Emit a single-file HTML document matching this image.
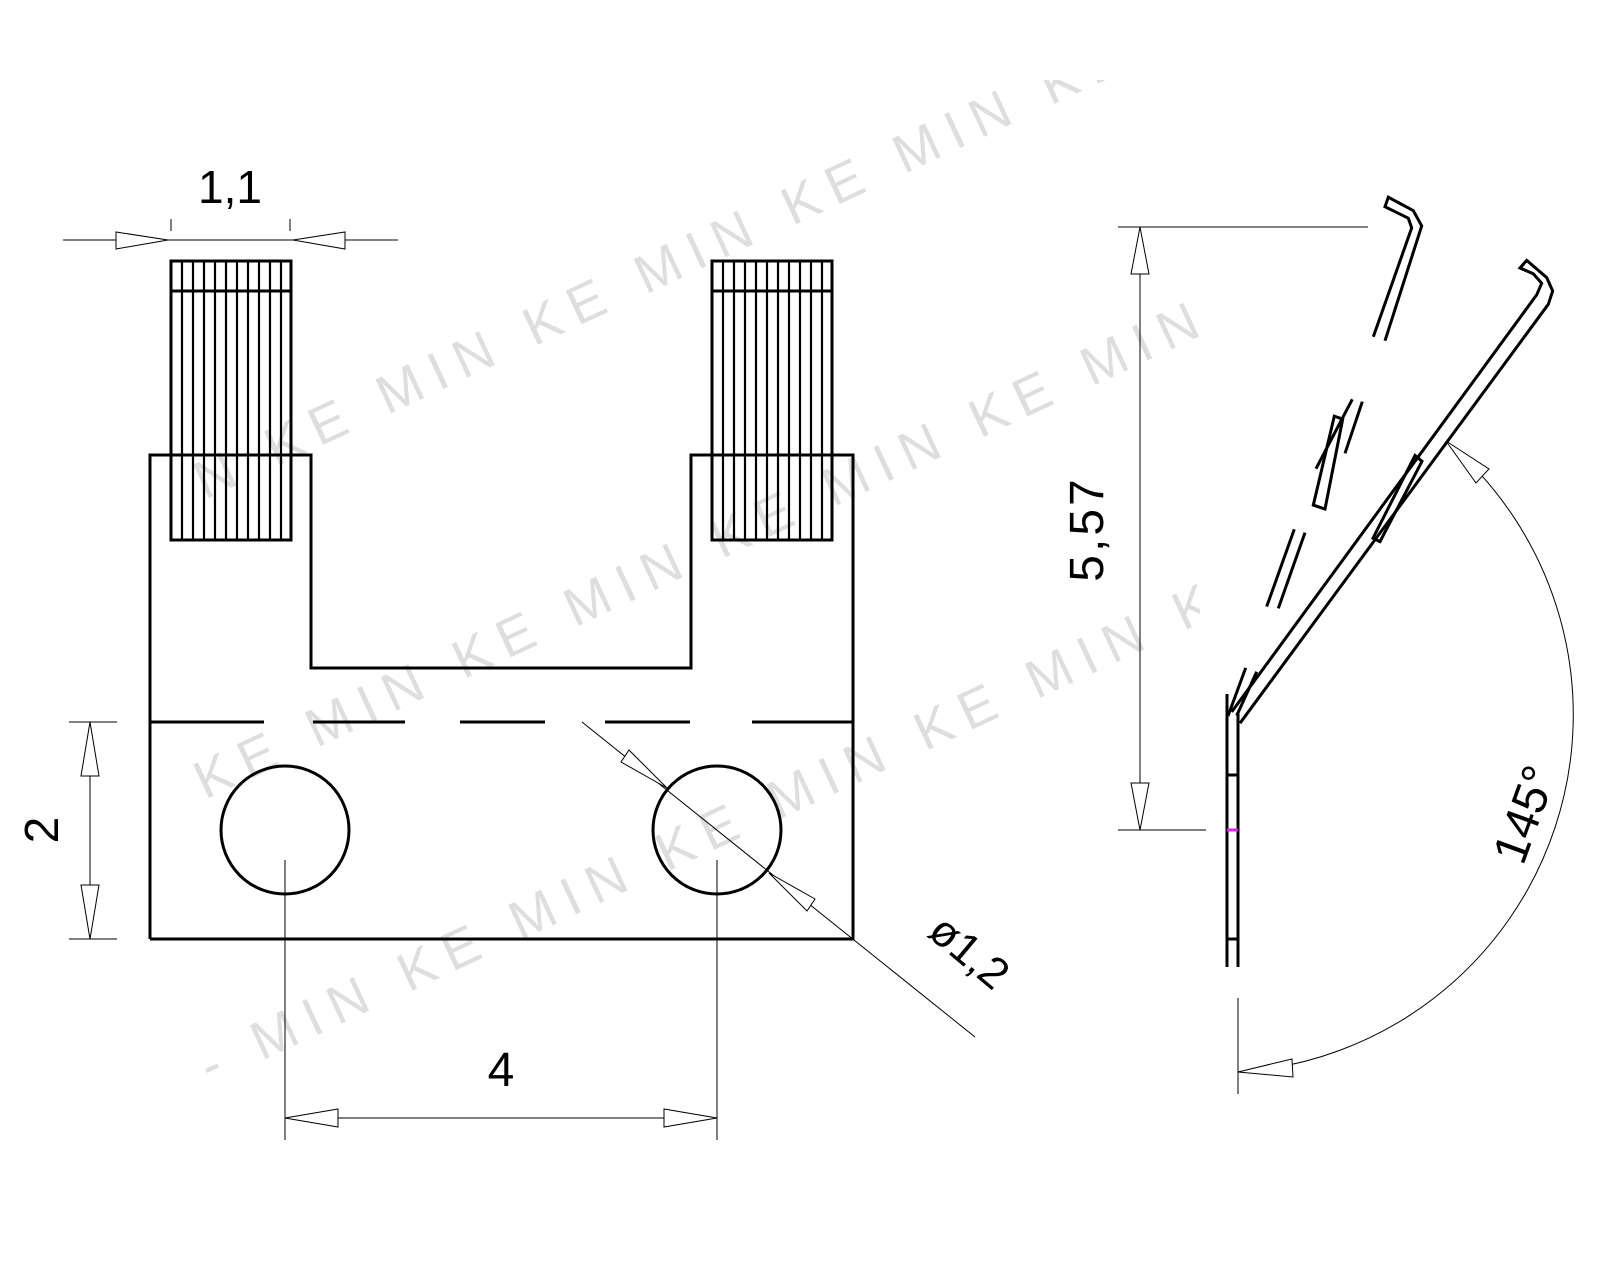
<!DOCTYPE html>
<html><head><meta charset="utf-8"><style>
html,body{margin:0;padding:0;background:#fff;}
svg{display:block;}
text{font-family:"Liberation Sans",sans-serif;fill:#000;}
.wm{fill:#dedede;font-size:54px;letter-spacing:12px;}
</style></head><body>
<svg width="1600" height="1280" viewBox="0 0 1600 1280" xmlns="http://www.w3.org/2000/svg">
<defs><clipPath id="c"><rect x="190" y="80" width="1010" height="1050"/></clipPath></defs>
<g class="wm" clip-path="url(#c)">
<text transform="translate(205,500) rotate(-25)" class="wm">N KE MIN KE MIN KE MIN KE MIN</text>
<text transform="translate(205,800) rotate(-25)" class="wm">KE MIN KE MIN KE MIN KE MIN KE</text>
<text transform="translate(210,1085) rotate(-25)" class="wm">- MIN KE MIN KE MIN KE MIN KE MIN</text>
</g>
<g fill="none" stroke="#000" stroke-width="3">
<polyline points="150,939 150,455 311,455 311,668 691,668 691,455 853,455 853,939 150,939"/>
<line x1="150" y1="722" x2="264" y2="722"/>
<line x1="313" y1="722" x2="405" y2="722"/>
<line x1="460" y1="722" x2="545" y2="722"/>
<line x1="605" y1="722" x2="690" y2="722"/>
<line x1="752" y1="722" x2="853" y2="722"/>
<circle cx="285" cy="830" r="64"/>
<circle cx="717" cy="830" r="64"/>
<rect x="171" y="261" width="120" height="279"/>
<line x1="171" y1="291" x2="291" y2="291"/>
<rect x="712" y="261" width="120" height="279"/>
<line x1="712" y1="291" x2="832" y2="291"/>
</g>
<g stroke="#000" stroke-width="2.2">
<path d="M182,261V540M193,261V540M204,261V540M215,261V540M226,261V540M237,261V540M248,261V540M259,261V540M270,261V540M281,261V540"/>
<path d="M723,261V540M734,261V540M745,261V540M756,261V540M767,261V540M778,261V540M789,261V540M800,261V540M811,261V540M822,261V540"/>
</g>
<g fill="none" stroke="#000" stroke-width="1">
<line x1="63" y1="240" x2="398" y2="240"/>
<line x1="171" y1="219" x2="171" y2="231"/><line x1="290" y1="219" x2="290" y2="231"/>
<polygon points="168,240 116,232 116,249" fill="#fff"/>
<polygon points="293,240 345,232 345,249" fill="#fff"/>
<line x1="90" y1="722" x2="90" y2="939"/>
<line x1="69" y1="722" x2="117" y2="722"/><line x1="69" y1="939" x2="117" y2="939"/>
<polygon points="90,722 81,776 99,776" fill="#fff"/>
<polygon points="90,939 81,885 99,885" fill="#fff"/>
<line x1="285" y1="860" x2="285" y2="1140"/>
<line x1="717" y1="860" x2="717" y2="1140"/>
<line x1="285" y1="1118" x2="717" y2="1118"/>
<polygon points="285,1118 338,1109 338,1127" fill="#fff"/>
<polygon points="717,1118 664,1109 664,1127" fill="#fff"/>
<line x1="582" y1="722" x2="975" y2="1037"/>
<polygon points="667,788 629,750 621,762" fill="#fff"/>
<polygon points="769,873 807,911 815,899" fill="#fff"/>
<line x1="1118" y1="227" x2="1368" y2="227"/>
<line x1="1118" y1="830" x2="1206" y2="830"/>
<line x1="1140" y1="227" x2="1140" y2="830"/>
<polygon points="1140,227 1131,274 1149,274" fill="#fff"/>
<polygon points="1140,830 1131,783 1149,783" fill="#fff"/>
<line x1="1238" y1="998" x2="1238" y2="1094"/>
<path d="M1446,441 A358,358 0 0 1 1238,1072"/>
<polygon points="1238,1072 1292,1059 1293,1077" fill="#fff"/>
<polygon points="1446,441 1489,469 1476,483" fill="#fff"/>
</g>
<g fill="none" stroke="#000" stroke-width="3">
<line x1="1227" y1="694" x2="1227" y2="967"/>
<line x1="1238" y1="712" x2="1238" y2="967"/>
<line x1="1227" y1="775" x2="1238" y2="775"/>
<line x1="1227" y1="939" x2="1238" y2="939"/>
<polyline points="1231.7,711.9 1536.7,294.8 1541.7,283.3 1533.3,273.8 1520,268 1526.7,260.4 1546.7,277.6 1552.7,291 1548.3,304.3 1240,723.2"/>
<polygon points="1373,538.2 1415,455.5 1422,461.3 1380,541.6"/>
<polyline points="1373.3,336.7 1411.7,227.9 1408.3,218.2 1385,206.7 1388.3,197.2 1413.3,210.6 1421.7,225.9 1385,340.7"/>
<line x1="1316" y1="468.7" x2="1352.3" y2="399.3"/>
<line x1="1362.3" y1="401.7" x2="1345" y2="453.3"/>
<polygon points="1313.3,505.1 1334.3,416.2 1342.7,419.1 1325,509"/>
<line x1="1266.7" y1="606.5" x2="1294.3" y2="529.3"/>
<line x1="1278.3" y1="608.4" x2="1305" y2="532.6"/>
<line x1="1228" y1="716" x2="1245.7" y2="667.9"/>
<line x1="1236.7" y1="715.6" x2="1256.7" y2="671.7"/>
</g>
<line x1="1227" y1="830" x2="1238" y2="830" stroke="#e020e0" stroke-width="3"/>
<text x="230" y="203" font-size="46" text-anchor="middle">1,1</text>
<text transform="translate(58,830) rotate(-90)" font-size="48" text-anchor="middle">2</text>
<text x="501" y="1086" font-size="48" text-anchor="middle">4</text>
<text transform="translate(1103,529) rotate(-90)" font-size="48" text-anchor="middle" letter-spacing="3">5,57</text>
<text transform="translate(926,935) rotate(40)" font-size="44">ø1,2</text>
<text transform="translate(1540,820) rotate(-70)" font-size="48" text-anchor="middle">145°</text>
</svg>
</body></html>
